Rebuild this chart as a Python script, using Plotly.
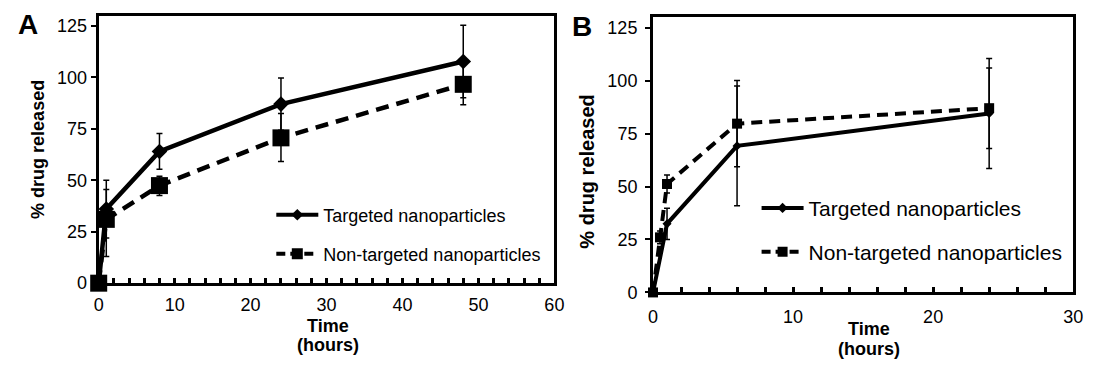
import plotly.graph_objects as go

# ---------------- data ----------------
# Panel A
time_a = [0, 1, 8, 24, 48]
targeted_a = [0, 36, 64, 87, 107.7]
targeted_a_err = [0, 14, 8.7, 12.7, 17.6]
nontargeted_a = [0, 31, 47.4, 70.6, 96.6]
nontargeted_a_err_plus = [0, 14.5, 4.5, 11.8, 9.9]
nontargeted_a_err_minus = [0, 18, 4.8, 11.5, 9.9]

# Panel B
time_b_targeted = [0, 1, 6, 24]
targeted_b = [0, 32.4, 69.2, 84.5]
targeted_b_err = [0, 7.4, 28.3, 26]
time_b_nontargeted = [0, 0.5, 1, 6, 24]
nontargeted_b = [0, 26, 51.2, 79.7, 87]
nontargeted_b_err = [0, 3, 4.2, 20.4, 19]

x_ticks_a = [0, 10, 20, 30, 40, 50, 60]
x_ticks_b = [0, 10, 20, 30]
y_ticks = [0, 25, 50, 75, 100, 125]

label_targeted = "Targeted nanoparticles"
label_nontargeted = "Non-targeted nanoparticles"

FONT = "Liberation Sans, Arial, sans-serif"
W, H = 1097, 372

def px(x):
    return x / W

def py(y):
    return (H - y) / H

fig = go.Figure()

def err(arr, minus=None, width=3):
    d = dict(type="data", array=arr, visible=True, color="black", thickness=1.5, width=width)
    if minus is not None:
        d["symmetric"] = False
        d["arrayminus"] = minus
    return d

# Panel A traces
fig.add_trace(go.Scatter(
    x=time_a, y=targeted_a, mode="lines+markers", xaxis="x", yaxis="y",
    line=dict(color="black", width=4.5),
    marker=dict(symbol="diamond", size=12, color="black"),
    error_y=err(targeted_a_err), cliponaxis=False, showlegend=False))
fig.add_trace(go.Scatter(
    x=time_a, y=nontargeted_a, mode="lines+markers", xaxis="x", yaxis="y",
    line=dict(color="black", width=4.5, dash="13px,8px"),
    marker=dict(symbol="square", size=17, color="black"),
    error_y=err(nontargeted_a_err_plus, nontargeted_a_err_minus), cliponaxis=False, showlegend=False))

# Panel B traces
fig.add_trace(go.Scatter(
    x=time_b_targeted, y=targeted_b, mode="lines+markers", xaxis="x2", yaxis="y2",
    line=dict(color="black", width=4),
    marker=dict(symbol="diamond", size=7, color="black"),
    error_y=err(targeted_b_err), cliponaxis=False, showlegend=False))
fig.add_trace(go.Scatter(
    x=time_b_nontargeted, y=nontargeted_b, mode="lines+markers", xaxis="x2", yaxis="y2",
    line=dict(color="black", width=4, dash="11px,7px"),
    marker=dict(symbol="square", size=10, color="black"),
    error_y=err(nontargeted_b_err), cliponaxis=False, showlegend=False))

# legend-only entries
def leg_trace(name, legend, dash, symbol, size, width):
    return go.Scatter(x=[None], y=[None], mode="lines+markers", name=name, legend=legend,
                      line=dict(color="black", width=width, dash=dash),
                      marker=dict(symbol=symbol, size=size, color="black"),
                      xaxis="x", yaxis="y", showlegend=True)

fig.add_trace(leg_trace(label_targeted, "legend", "solid", "diamond", 9, 4))
fig.add_trace(leg_trace(label_nontargeted, "legend2", "9px,5px", "square", 11, 4))
fig.add_trace(leg_trace(label_targeted, "legend3", "solid", "diamond", 8, 4))
fig.add_trace(leg_trace(label_nontargeted, "legend4", "9px,5px", "square", 10, 4))

def leg(x, y, size):
    return dict(x=px(x), y=py(y), xanchor="left", yanchor="middle",
                bgcolor="rgba(0,0,0,0)", borderwidth=0, itemwidth=42,
                font=dict(family=FONT, size=size, color="black"))

axis_common = dict(showgrid=False, zeroline=False, showline=True, linecolor="black",
                   linewidth=3, mirror=True, color="black")

fig.update_layout(
    width=W, height=H, margin=dict(l=0, r=0, t=0, b=0),
    paper_bgcolor="white", plot_bgcolor="white",
    font=dict(family=FONT, color="black"),
    xaxis=dict(domain=[px(95), px(557)], range=[0, 60], tickvals=x_ticks_a,
               ticks="inside", ticklen=5, tickwidth=2.5, tickcolor="black",
               minor=dict(dtick=2, ticks="inside", ticklen=5, tickwidth=2.5, tickcolor="black"),
               tickfont=dict(size=18), ticklabelstandoff=3, anchor="y", **axis_common),
    yaxis=dict(domain=[py(291), py(16)], range=[0, 130], tickvals=y_ticks,
               ticks="outside", ticklen=5, tickwidth=2, tickcolor="black",
               tickfont=dict(size=18), anchor="x", **axis_common),
    xaxis2=dict(domain=[px(657), px(1083)], range=[0, 30], tickvals=x_ticks_b,
                ticks="inside", ticklen=5, tickwidth=2.5, tickcolor="black",
                minor=dict(dtick=2, ticks="inside", ticklen=5, tickwidth=2.5, tickcolor="black"),
                tickfont=dict(size=18), ticklabelstandoff=6, anchor="y2", **axis_common),
    yaxis2=dict(domain=[py(300.5), py(17.6)], range=[0, 130], tickvals=y_ticks,
                ticks="outside", ticklen=5, tickwidth=2, tickcolor="black",
                tickfont=dict(size=18), ticklabelstandoff=4, anchor="x2", **axis_common),
    legend=leg(270, 221, 18),
    legend2=leg(270, 261, 18),
    legend3=leg(762, 214, 21),
    legend4=leg(762, 259, 21),
)

def ann(text, x, y, size, bold=True, angle=0):
    fig.add_annotation(text=f"<b>{text}</b>" if bold else text, x=px(x), y=py(y),
                       xref="paper", yref="paper", xanchor="center", yanchor="middle",
                       showarrow=False, textangle=angle,
                       font=dict(family=FONT, size=size, color="black"))

ann("A", 23, 25, 28)
ann("B", 584.5, 27.5, 28)
ann("% drug released", 34, 153.5, 18, angle=-90)
ann("% drug released", 590, 175.5, 20, angle=-90)
ann("Time", 327, 335, 18)
ann("(hours)", 327, 355, 18)
ann("Time", 875.7, 338, 18)
ann("(hours)", 875.7, 359, 18)

fig.write_html("out.html")
